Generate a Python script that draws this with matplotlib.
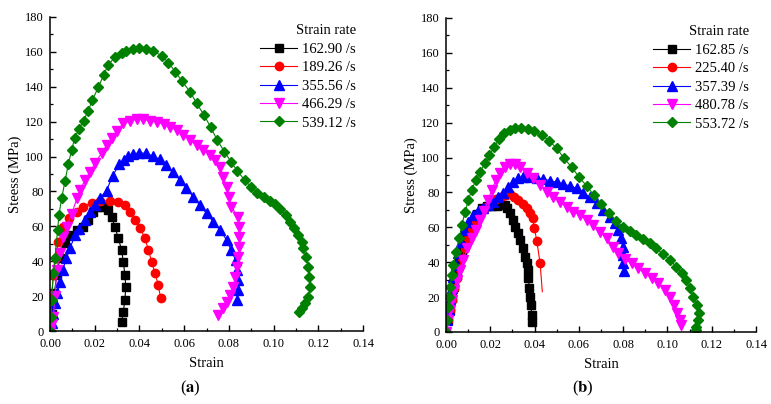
import numpy as np
import matplotlib
matplotlib.use("Agg")
import matplotlib.pyplot as plt
from matplotlib.ticker import MultipleLocator, FormatStrFormatter

plt.rcParams['font.family'] = ['Liberation Serif', 'DejaVu Serif']
plt.rcParams['mathtext.fontset'] = 'stix'

# ---------------- Panel (a) data ----------------
a_labels = ["162.90 /s", "189.26 /s", "355.56 /s", "466.29 /s", "539.12 /s"]

a1_x = [0.0, 0.001, 0.002, 0.003, 0.0045, 0.0067, 0.0089, 0.0119, 0.0149, 0.0171, 0.0194,
        0.0216, 0.0238, 0.026, 0.0276, 0.029, 0.0306, 0.032, 0.0328, 0.0335, 0.0339,
        0.0335, 0.0328, 0.032]
a1_y = [0.0, 10, 22, 32, 42, 50.2, 55, 57.9, 59.8, 63.5, 68.5,
        70.8, 70.9, 69.4, 65.5, 59.8, 53.1, 46.4, 39.7, 32.1, 25.4,
        17.8, 11.1, 5.3]

a2_x = [0.0, 0.0003, 0.0007, 0.0015, 0.0025, 0.0037, 0.006, 0.0085, 0.0119, 0.0149, 0.0186,
        0.0224, 0.0268, 0.0306, 0.0335, 0.0358, 0.038, 0.0403, 0.0425, 0.044, 0.0455,
        0.047, 0.0484, 0.0495]
a2_y = [0.0, 10, 20, 32, 42, 51, 59.8, 65, 68.4, 71.3, 73.5,
        74.5, 74.7, 74.1, 72.2, 68.4, 63.6, 58.9, 53.1, 46.4, 39.7,
        33.1, 26.4, 18.7]

a3_x = [0.0, 0.0007, 0.0015, 0.0022, 0.0033, 0.0045, 0.0057, 0.0073, 0.009, 0.0112, 0.013,
        0.0157, 0.018, 0.0201, 0.0225, 0.0253, 0.028, 0.031, 0.033, 0.035, 0.037, 0.040,
        0.043, 0.046, 0.049, 0.052, 0.055, 0.058, 0.061, 0.064, 0.067, 0.070, 0.073,
        0.076, 0.079, 0.081, 0.083, 0.0838, 0.0842, 0.0842, 0.0838]
a3_y = [0.0, 4.4, 10, 15.9, 21.6, 28.3, 35, 41.6, 47.6, 55, 58.5,
        63.6, 68.5, 72.5, 76.5, 80.5, 89, 95.5, 98, 100.3, 101.4, 102.2,
        101.8, 100.3, 98.4, 95, 91.3, 86.6, 81.8, 77, 72.2, 67.4, 62.7,
        57.9, 52.2, 46.4, 40.7, 35, 29.2, 23.5, 17.8]

a4_x = [0.0, 0.0007, 0.0015, 0.0022, 0.003, 0.0045, 0.006, 0.0075, 0.0097, 0.012, 0.0134,
        0.0157, 0.0179, 0.0201, 0.0231, 0.0253, 0.0276, 0.0298, 0.0328, 0.0358, 0.0388,
        0.0418, 0.0448, 0.0478, 0.0508, 0.0537, 0.0567, 0.0597, 0.0626, 0.0656, 0.0686,
        0.0716, 0.0738, 0.0761, 0.0775, 0.079, 0.0802, 0.081, 0.0840, 0.0846, 0.0847,
        0.0847, 0.0843, 0.0835, 0.0828, 0.0820, 0.0805, 0.0790, 0.0772, 0.0753]
a4_y = [0.0, 4, 8, 20, 35, 45, 54, 59.8, 67, 76, 80.8,
        86.6, 91.3, 96.1, 102, 106.5, 110.5, 114.5, 119, 120.6, 121.3,
        121.3, 120.6, 119.6, 118.7, 117, 115.2, 112.4, 109.5, 106.6, 103.8,
        100.9, 98, 94.2, 88.5, 82.7, 77, 71.3, 65.5, 59.8, 54,
        48.3, 42.6, 36.9, 31.1, 25.4, 20.6, 16.8, 13, 9.2]

a5_x = [0.0, 0.0003, 0.0007, 0.0015, 0.0022, 0.0034, 0.004, 0.0052, 0.0067, 0.0082, 0.0097,
        0.011, 0.013, 0.015, 0.017, 0.019, 0.0216, 0.024, 0.026, 0.029, 0.032, 0.034,
        0.037, 0.040, 0.043, 0.046, 0.050, 0.053, 0.056, 0.059, 0.0626, 0.0656, 0.0689,
        0.0719, 0.0748, 0.078, 0.081, 0.0838, 0.087, 0.090, 0.0927, 0.0957, 0.0984,
        0.1006, 0.103, 0.1054, 0.1074, 0.109, 0.111, 0.1125, 0.1133, 0.1145, 0.1156,
        0.116, 0.1163, 0.1156, 0.114, 0.1125, 0.1115]
a5_y = [0.0, 8, 17.8, 33, 42, 57.9, 66.5, 76, 85.8, 95.8, 103.8,
        110.4, 116, 120.6, 126, 132.4, 139.7, 146.7, 152.5, 156.9, 159.5, 160.7,
        161.5, 162, 161.6, 160.7, 157.6, 153.8, 148.7, 143.3, 137.2, 130.5, 123.8,
        116.7, 109.5, 102.8, 97, 91.7, 86.6, 82.4, 79.3, 76.6, 74.7,
        72.8, 69.7, 66.5, 62.7, 58.9, 55, 51.2, 47.4, 42.6, 36.9,
        31.1, 25.4, 19.7, 15.9, 13, 10.7]

# ---------------- Panel (b) data ----------------
b_labels = ["162.85 /s", "225.40 /s", "357.39 /s", "480.78 /s", "553.72 /s"]

b1_x = [0.0, 0.001, 0.0018, 0.0026, 0.0036, 0.0048, 0.006, 0.0074, 0.0089, 0.0105, 0.0123,
        0.0141, 0.0161, 0.0184, 0.0206, 0.0229, 0.0251, 0.0266, 0.0277, 0.0289, 0.0301,
        0.0312, 0.0324, 0.0334, 0.0346, 0.0357, 0.0364, 0.0369, 0.0372, 0.0376, 0.0379,
        0.0384, 0.0387, 0.0387]
b1_y = [0.0, 6.9, 12.6, 19.3, 26, 32.7, 39.4, 46, 52.7, 58.5, 63.2,
        67.4, 70.9, 72.4, 72.4, 72.4, 72.8, 72.8, 70.9, 68, 64.2,
        60.4, 56.6, 52.7, 48, 43.2, 39.4, 35.5, 30.8, 25, 20.3,
        15.5, 9.7, 5.9]

b2_x = [0.0, 0.001, 0.0018, 0.0027, 0.0038, 0.0048, 0.006, 0.0072, 0.0086, 0.0101, 0.0117,
        0.0135, 0.0157, 0.0181, 0.0203, 0.0226, 0.0248, 0.0271, 0.0289, 0.0307, 0.0327,
        0.0346, 0.0364, 0.0379, 0.0391, 0.0399, 0.041, 0.0425, 0.0435]
b2_y = [0.0, 6.9, 12.6, 18.3, 25, 30.8, 36.5, 42.2, 48, 53.7, 58.9,
        63.8, 68, 71.5, 73.8, 76, 77.6, 78.5, 78.9, 77.6, 75.7,
        73.4, 70.9, 68, 65.2, 59.8, 52.2, 39.4, 23.1]

b3_x = [0.0, 0.0004, 0.0012, 0.0018, 0.0026, 0.0033, 0.0044, 0.0056, 0.0066, 0.0081, 0.0101,
        0.0123, 0.0146, 0.0169, 0.0191, 0.0214, 0.0236, 0.0259, 0.0282, 0.0304, 0.0327,
        0.0349, 0.0379, 0.041, 0.044, 0.047, 0.05, 0.053, 0.056, 0.059, 0.062, 0.065,
        0.068, 0.071, 0.074, 0.0763, 0.0778, 0.079, 0.0798, 0.08, 0.08, 0.0804]
b3_y = [0.0, 6.9, 12.6, 18.3, 25, 31.7, 38.4, 45.1, 51.8, 58.5, 63.2,
        67, 69.6, 70.9, 72.8, 74.7, 77.2, 79.9, 82.9, 86.2, 88.1,
        89, 89, 88.5, 87.5, 86.8, 85.8, 84.8, 83.7, 82.4, 79.9, 77.2,
        73.8, 69.9, 66.1, 62.3, 58.5, 53.7, 48.9, 44.1, 39.4, 35.2]

b4_x = [0.0, 0.001, 0.0018, 0.0026, 0.0036, 0.0048, 0.0063, 0.0078, 0.0096, 0.0116, 0.0135,
        0.0154, 0.0173, 0.0191, 0.0206, 0.0226, 0.0244, 0.0266, 0.0289, 0.0312, 0.0334,
        0.0364, 0.0394, 0.0425, 0.0455, 0.0485, 0.0515, 0.0545, 0.0575, 0.0605, 0.0635,
        0.0665, 0.0695, 0.0726, 0.0756, 0.0778, 0.0808, 0.0838, 0.0869, 0.0898, 0.0929,
        0.0959, 0.099, 0.101, 0.103, 0.1045, 0.1057, 0.106]
b4_y = [0.0, 6.9, 12.6, 18.3, 24, 29.8, 35.5, 41.3, 48, 53.7, 58.5,
        64.2, 69.6, 75.7, 81.4, 87.1, 91.3, 94.8, 96.3, 96.3, 94.4,
        91, 88.1, 84.3, 80.4, 77.6, 74.7, 71.8, 69, 67.1, 64.2,
        61.3, 57.5, 53.7, 48.9, 45.1, 41.7, 39.4, 36.5, 34, 30.8,
        27.9, 24.1, 20.3, 15.5, 10.7, 6.9, 4]

b5_x = [0.0, 0.0003, 0.001, 0.0015, 0.0018, 0.0026, 0.0033, 0.0045, 0.006, 0.0071, 0.0086,
        0.0101, 0.0116, 0.0135, 0.0154, 0.0176, 0.0196, 0.0217, 0.024, 0.0263, 0.0289,
        0.0312, 0.0339, 0.0369, 0.0399, 0.0432, 0.0465, 0.05, 0.0533, 0.0568, 0.06,
        0.0635, 0.0668, 0.07, 0.0735, 0.0766, 0.08, 0.083, 0.086, 0.089, 0.092, 0.095,
        0.098, 0.101, 0.104, 0.1064, 0.1084, 0.110, 0.1117, 0.1132, 0.1144, 0.114,
        0.113, 0.1128]
b5_y = [0.0, 6.9, 14.5, 20.3, 26, 32.7, 38.4, 46, 53.7, 61.3, 68.6,
        75.7, 81.4, 87.1, 91.9, 96.7, 101.5, 106.2, 110.4, 113.9, 115.8,
        116.8, 116.8, 116.2, 115.2, 112.9, 109.7, 105.3, 99.6, 94.4, 89,
        83.7, 78.5, 73.4, 68.4, 63.8, 60.4, 57.9, 55.6, 53.1, 50.8, 48,
        44.7, 41.3, 37.5, 33.6, 29.8, 25, 20.3, 15.5, 10.7, 6.9,
        3.1, 1.0]

colors = ["#000000", "#ff0000", "#0000ff", "#ff00ff", "#008000"]
markers = ["s", "o", "^", "v", "D"]
msizes = [5.3, 6.0, 6.6, 6.6, 5.4]

fig = plt.figure(figsize=(7.71, 4.04), dpi=100)
ax_a = fig.add_axes([50/771, 1-331/404, 313/771, 314/404])
ax_b = fig.add_axes([446/771, 1-332/404, 310/771, 314/404])

a_series = [(a1_x, a1_y), (a2_x, a2_y), (a3_x, a3_y), (a4_x, a4_y), (a5_x, a5_y)]
b_series = [(b1_x, b1_y), (b2_x, b2_y), (b3_x, b3_y), (b4_x, b4_y), (b5_x, b5_y)]

for i, (x, y) in enumerate(a_series):
    ax_a.plot(x, y, color=colors[i], marker=markers[i], ms=msizes[i], lw=0.8,
              mec=colors[i], label=a_labels[i])

for i, (x, y) in enumerate(b_series):
    kw = {}
    if i == 1:
        kw['markevery'] = list(range(len(x) - 1))
    ax_b.plot(x, y, color=colors[i], marker=markers[i], ms=msizes[i], lw=0.8,
              mec=colors[i], label=b_labels[i], **kw)

for ax, ylab in [(ax_a, "Steess (MPa)"), (ax_b, "Stress (MPa)")]:
    ax.set_xlim(0, 0.14)
    ax.set_ylim(0, 180)
    ax.xaxis.set_major_locator(MultipleLocator(0.02))
    ax.xaxis.set_minor_locator(MultipleLocator(0.01))
    ax.yaxis.set_major_locator(MultipleLocator(20))
    ax.yaxis.set_minor_locator(MultipleLocator(10))
    ax.xaxis.set_major_formatter(FormatStrFormatter('%.2f'))
    ax.spines['top'].set_visible(False)
    ax.spines['right'].set_visible(False)
    ax.spines['left'].set_linewidth(1.1)
    ax.spines['bottom'].set_linewidth(1.1)
    ax.tick_params(which='major', direction='in', length=4, width=1.0, labelsize=9)
    ax.tick_params(axis='x', which='major', pad=5)
    ax.tick_params(axis='y', which='major', pad=4.5)
    ax.tick_params(which='minor', direction='in', length=2.5, width=0.9)
    ax.set_xlabel("Strain", fontsize=10.5, labelpad=5)
    ax.set_ylabel(ylab, fontsize=10.5, labelpad=2)
    leg = ax.legend(title="Strain rate", loc='upper right', bbox_to_anchor=(1.0, 1.0),
                    frameon=False, fontsize=10.5, title_fontsize=10.5, handlelength=2.5,
                    handletextpad=0.35, labelspacing=0.36, borderaxespad=0.1,
                    alignment='right')

fig.text(190/771, 1-388/404, r"($\mathbf{a}$)", ha='center', va='center', fontsize=12)
fig.text(583/771, 1-388/404, r"($\mathbf{b}$)", ha='center', va='center', fontsize=12)

fig.savefig("out.png", dpi=100)
